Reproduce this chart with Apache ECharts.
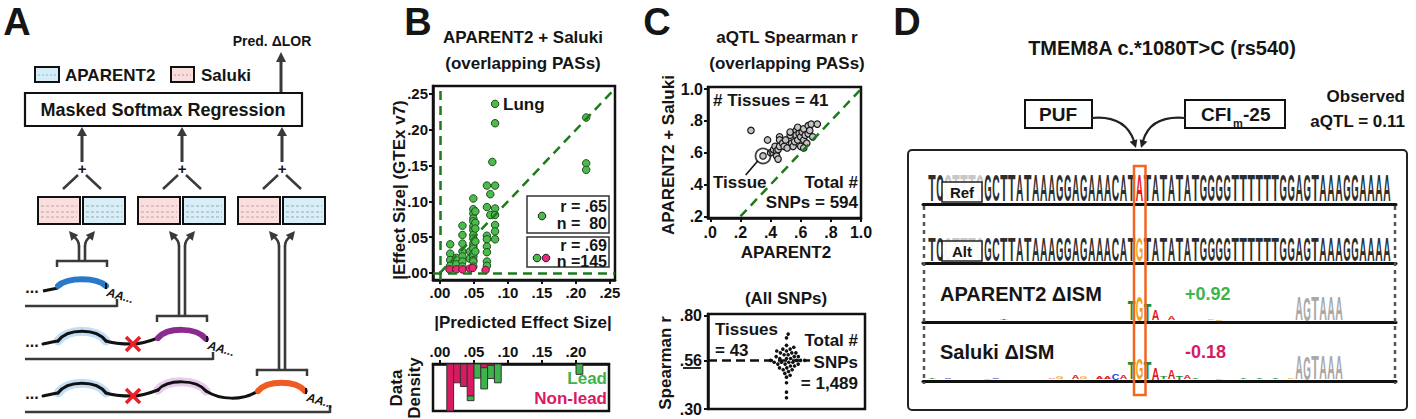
<!DOCTYPE html>
<html><head><meta charset="utf-8">
<script src="https://cdn.jsdelivr.net/npm/echarts@6/dist/echarts.min.js"></script>
<style>html,body{margin:0;padding:0;background:#fff}#c{width:1416px;height:419px}</style>
</head><body><div id="c"></div>
<script>
const F = '"Liberation Sans", Arial, Helvetica, sans-serif';

// ---------- Panel B data ----------
const bTicks = [0, 0.05, 0.10, 0.15, 0.20, 0.25];
const leadPoints = [
 [0.015,0.040],[0.015,0.027],[0.015,0.018],[0.015,0.010],
 [0.024,0.021],[0.024,0.012],
 [0.033,0.066],[0.033,0.053],[0.033,0.041],[0.033,0.030],[0.033,0.023],[0.033,0.016],[0.033,0.009],
 [0.044,0.030],[0.044,0.020],
 [0.049,0.104],[0.049,0.089],[0.049,0.083],[0.049,0.076],[0.049,0.072],[0.049,0.065],[0.049,0.060],[0.049,0.053],[0.049,0.048],[0.049,0.041],[0.049,0.037],[0.049,0.034],[0.049,0.027],[0.049,0.023],[0.049,0.018],[0.049,0.016],[0.049,0.009],
 [0.052,0.086],[0.052,0.070],[0.052,0.062],[0.052,0.044],[0.052,0.030],
 [0.069,0.122],[0.069,0.092],[0.069,0.052],[0.069,0.047],[0.069,0.037],[0.069,0.029],[0.069,0.016],[0.069,0.010],
 [0.074,0.110],[0.074,0.081],[0.077,0.155],
 [0.081,0.236],[0.081,0.209],[0.081,0.122],[0.081,0.090],[0.081,0.081],[0.081,0.067],[0.081,0.058],[0.081,0.047],
 [0.215,0.217],[0.215,0.153],[0.215,0.144]
];
const nonLeadPoints = [[0.014,0.005],[0.024,0.005],[0.033,0.005],[0.044,0.006],[0.048,0.007],[0.067,0.004]];
const histBins = [0.01, 0.02, 0.03, 0.04, 0.05, 0.06, 0.07, 0.08, 0.20];
const histNonLead = [1.00, 0.40, 0.48, 0.68, 0.00, 0.08, 0.03, 0.00, 0.00];
const histLead    = [0.00, 0.00, 0.00, 0.10, 0.30, 0.45, 0.28, 0.40, 0.22];

// ---------- Panel C data ----------
const cTicksX = [0, 0.2, 0.4, 0.6, 0.8, 1.0];
const cTicksY = [0.2, 0.4, 0.6, 0.8, 1.0];
const tissuePoints = [
 [0.27,0.74],[0.35,0.58],[0.38,0.68],[0.40,0.60],[0.42,0.62],[0.43,0.64],[0.44,0.61],[0.44,0.58],[0.45,0.56],[0.45,0.62],
 [0.46,0.64],[0.46,0.70],[0.46,0.68],[0.48,0.66],[0.49,0.64],[0.50,0.68],[0.51,0.63],[0.53,0.71],[0.53,0.73],[0.54,0.66],
 [0.55,0.64],[0.56,0.67],[0.57,0.74],[0.57,0.71],[0.58,0.76],[0.58,0.68],[0.59,0.72],[0.60,0.64],[0.60,0.70],[0.61,0.73],
 [0.62,0.75],[0.62,0.68],[0.63,0.71],[0.64,0.66],[0.65,0.77],[0.65,0.72],[0.66,0.74],[0.67,0.78],[0.68,0.70],[0.71,0.78],[0.62,0.63]
];
const highlightedTissue = 1;
const swarmValues = [
 0.70,0.68,0.64,0.63,0.62,0.62,0.61,0.61,0.60,0.60,
 0.60,0.59,0.59,0.58,0.58,0.58,0.57,0.57,0.57,0.56,
 0.56,0.56,0.56,0.55,0.55,0.55,0.55,0.54,0.54,0.54,
 0.53,0.53,0.52,0.52,0.51,0.51,0.50,0.49,0.48,0.47,
 0.44,0.39,0.36
];
const swarmMedian = 0.56;
const swarmTicks = [0.30, 0.56, 0.80];

// ---------- Panel D data ----------
const refSeq = 'TC' + 'CTTTG' + 'GCTTATAAAGGAGAAACAT' + 'A' + 'TATATATGGGGTTTTTTGGAGTAAAGGAAAA';
const altSeq = 'TC' + 'CTTTG' + 'GCTTATAAAGGAGAAACAT' + 'G' + 'TATATATGGGGTTTTTTGGAGTAAAGGAAAA';
const variantPos = 26;
const maskedPositions = [2, 3, 4, 5, 6];
const motifPositions = [46, 47, 48, 49, 50, 51];
const aparentISM = [[9,0.05],[25,0.62],[26,0.78],[27,0.55],[28,0.31],[30,0.10],[35,0.05],[36,0.04],
  [46,0.73],[47,0.73],[48,0.73],[49,0.73],[50,0.73],[51,0.73]];
const salukiISM = [[0,0.05],[2,0.04],[7,0.04],[8,0.05],[15,0.05],[16,0.06],[18,0.10],[19,0.07],[21,0.08],[22,0.08],
  [23,0.20],[24,0.10],[25,0.54],[26,0.68],[27,0.54],[28,0.37],[29,0.08],[30,0.30],[31,0.12],[32,0.10],[33,0.04],
  [36,0.04],[39,0.03],[41,0.04],[43,0.04],[45,0.05],
  [46,0.73],[47,0.73],[48,0.73],[49,0.73],[50,0.73],[51,0.73]];

// ---------- helpers ----------
const G = [];
const DARK = '#3a3a3a';
function line(x1,y1,x2,y2,w,c,dash,z){ G.push({type:'line',silent:true,z:z||1,shape:{x1,y1,x2,y2},style:{stroke:c||'#111',lineWidth:w||2,lineDash:dash||null,lineCap:'butt'}}); }
function rect(x,y,w,h,fill,stroke,lw,r,z){ G.push({type:'rect',silent:true,z:z||1,shape:{x,y,width:w,height:h,r:r||0},style:{fill:fill||'none',stroke:stroke||'#111',lineWidth:lw==null?2:lw}}); }
function txt(x,y,t,size,opt){ opt=opt||{}; G.push({type:'text',silent:true,z:opt.z||5,x,y,rotation:opt.rot||0,
  style:{text:t,fill:opt.color||'#151515',font:(opt.italic?'italic ':'')+(opt.normal?'':'bold ')+size+'px '+F,
  align:opt.align||'center',textAlign:opt.align||'center',verticalAlign:'middle',textVerticalAlign:'middle'}}); }
function bz(x1,y1,c1x,c1y,c2x,c2y,x2,y2,stroke,w,z){ G.push({type:'bezierCurve',silent:true,z:z||1,
  shape:{x1,y1,x2,y2,cpx1:c1x,cpy1:c1y,cpx2:c2x,cpy2:c2y},style:{stroke,lineWidth:w,fill:'none',lineCap:'round'}}); }
function qz(x1,y1,cx,cy,x2,y2,stroke,w,z){ G.push({type:'bezierCurve',silent:true,z:z||1,
  shape:{x1,y1,x2,y2,cpx1:cx,cpy1:cy},style:{stroke,lineWidth:w,fill:'none',lineCap:'round'}}); }
function head(tx,ty,ang,len,wid,c,z){ const bx=tx-Math.cos(ang)*len, by=ty-Math.sin(ang)*len; const px=-Math.sin(ang)*wid/2, py=Math.cos(ang)*wid/2;
  G.push({type:'polygon',silent:true,z:z||2,shape:{points:[[tx,ty],[bx+px,by+py],[bx-px,by-py]]},style:{fill:c||DARK}}); }
function circ(cx,cy,r,fill,stroke){ G.push({type:'circle',silent:true,z:6,shape:{cx,cy,r},style:{fill,stroke:stroke||'#222',lineWidth:1}}); }

// ---------- Panel A graphics ----------
txt(17,22,'A',38);
txt(272,41,'Pred. ΔLOR',14);
line(281,93,281,60,3,DARK); head(281,52,-Math.PI/2,10,10);
rect(35,67,24,15,'#d5edf8','#111',2); line(38,75,56,75,0.8,'#8aa',[2,2]);
txt(65,75,'APARENT2',17,{align:'left'});
rect(171,67,23,15,'#f9dcdc','#111',2); line(174,75,191,75,0.8,'#a88',[2,2]);
txt(201,75,'Saluki',17,{align:'left'});
rect(25,93,277,33,'#fff','#111',2.2);
txt(163,110,'Masked Softmax Regression',18);
[82,182,282].forEach(function(cx){
  line(cx,162,cx,134,3,DARK); head(cx,127,-Math.PI/2,9,10);
  txt(cx,168,'+',15);
  line(cx-4,175,cx-19,189,2.5,DARK); line(cx+4,175,cx+19,189,2.5,DARK);
  rect(cx-44,197,42,27,'#fbdede','#111',2);
  rect(cx+1,197,42,27,'#d8eef9','#111',2);
  [206,212,217].forEach(function(yy){ line(cx-41,yy,cx-5,yy,0.8,'#a99',[3,2]); line(cx+4,yy,cx+40,yy,0.8,'#899',[3,2]); });
});
// double arrows + brackets
[[82,261],[182,316],[282,370]].forEach(function(a){
  const cx=a[0], yb=a[1];
  line(cx-3,yb,cx-3,246,2.6,DARK); qz(cx-3,246,cx-3,240,cx-9,236,DARK,2.6);
  line(cx+3,yb,cx+3,246,2.6,DARK); qz(cx+3,246,cx+3,240,cx+9,236,DARK,2.6);
  head(cx-13,231,-Math.PI*0.72,9,9); head(cx+13,231,-Math.PI*0.28,9,9);
  line(cx-25,yb,cx+25,yb,2.5,DARK); line(cx-25,yb-1.2,cx-25,yb+6,2.5,DARK); line(cx+25,yb-1.2,cx+25,yb+6,2.5,DARK);
});
function dots(y){ txt(32,y-3,'...',16); }
function aa(x,y){ txt(x,y,'AA...',12,{align:'left',italic:true,rot:-0.28}); }
function redX(cx,cy){ line(cx-7,cy-7,cx+7,cy+7,3.5,'#e8202a',null,3); line(cx+7,cy-7,cx-7,cy+7,3.5,'#e8202a',null,3); }
function hump(x1,y1,x2,y2,peak,stroke,w,z){ const dx=(x2-x1); bz(x1,y1,x1+dx*0.2,peak,x2-dx*0.2,peak,x2,y2,stroke,w,z); }
// row 1
dots(290);
line(43,291,58,288,3,'#111');
hump(58,286,106,286,277,'#2a78c8',6);
line(106,283,106,289,2,'#111'); aa(107,292);
line(25,306,117,306,2.5,DARK); line(117,307,117,299,2.5,DARK);
// row 2
dots(344);
hump(58,341,106,341,328,'rgba(120,180,235,0.45)',9);
bz(43,344,48,343,52,342,58,341,'#111',3);
hump(58,341,106,341,328,'#111',3);
bz(106,341,114,344,124,344,133,344,'#111',3);
bz(133,344,142,344,150,341,158,338,'#111',3);
hump(158,338,206,339,327,'#8b2a8f',6);
line(207,336,207,342,2,'#111'); aa(208,345);
redX(133,344);
line(25,359,213,359,2.5,DARK); line(213,360,213,352,2.5,DARK);
// row 3
dots(396);
hump(58,393,106,393,380,'rgba(120,180,235,0.45)',9);
hump(158,390,206,391,379,'rgba(200,140,210,0.45)',9);
bz(43,396,48,395,52,394,58,393,'#111',3);
hump(58,393,106,393,380,'#111',3);
bz(106,393,114,396,124,396,133,396,'#111',3);
bz(133,396,142,396,150,393,158,390,'#111',3);
hump(158,390,206,391,379,'#111',3);
bz(206,391,220,400,242,401,258,391,'#111',3);
hump(258,391,305,391,380,'#f05a23',6);
line(306,388,306,394,2,'#111'); aa(307,397);
redX(133,396);
line(25,412,330,412,2.5,DARK); line(330,413,330,405,2.5,DARK);

// ---------- Panel B graphics ----------
txt(418,22,'B',38);
txt(523,37,'APARENT2 + Saluki',17);
txt(523,63,'(overlapping PASs)',17);
txt(399,190,'|Effect Size| (GTEx v7)',17,{rot:Math.PI/2});
txt(523,322,'|Predicted Effect Size|',17);
txt(503,104,'Lung',17,{align:'left'});
rect(527,196,82,37,'#fff','#333',1.5,0,4);
rect(527,237,82,30,'#fff','#333',1.5,0,4);
txt(607,206,'r = .65',16,{align:'right'});
txt(607,223.5,'n =  80',16,{align:'right'});
txt(607,245,'r = .69',16,{align:'right'});
txt(607,261.5,'n =145',16,{align:'right'});
circ(542,216,3.8,'#4cbb4c'); circ(537,258,3.8,'#4cbb4c'); circ(546,258,3.8,'#ea2a78');
txt(396,388,'Data',17,{rot:Math.PI/2});
txt(414,388,'Density',17,{rot:Math.PI/2});
txt(607,378,'Lead',17,{align:'right',color:'#3cb44b'});
txt(607,398,'Non-lead',17,{align:'right',color:'#d81b60'});

// ---------- Panel C graphics ----------
txt(657,22,'C',38);
txt(787,37,'aQTL Spearman r',17);
txt(787,63,'(overlapping PASs)',17);
txt(668,155,'APARENT2 + Saluki',17,{rot:Math.PI/2});
txt(786,252,'APARENT2',17);
txt(713,100,'# Tissues = 41',17,{align:'left'});
txt(713,182,'Tissue',17,{align:'left'});
txt(858,182,'Total #',17,{align:'right'});
txt(858,202,'SNPs = 594',17,{align:'right'});
txt(786,298,'(All SNPs)',17);
txt(665,363,'Spearman r',17,{rot:Math.PI/2});
line(683,368,701,368,1.8,'#111');
txt(715,329,'Tissues',17,{align:'left'});
txt(715,350,'= 43',17,{align:'left'});
txt(858,340,'Total #',17,{align:'right'});
txt(858,362,'SNPs',17,{align:'right'});
txt(858,383,'= 1,489',17,{align:'right'});

// ---------- Panel D graphics ----------
txt(907,22,'D',38);
txt(1162,48,'TMEM8A c.*1080T>C (rs540)',20);
rect(1025,100,67,28,'#fff','#111',2);
txt(1058,114,'PUF',19);
rect(1185,100,100,28,'#fff','#111',2);
txt(1201,114,'CFI',19,{align:'left'});
txt(1233,123,'m',11,{align:'left'});
txt(1243,114,'-25',19,{align:'left'});
txt(1405,96,'Observed',17,{align:'right'});
txt(1405,121,'aQTL = 0.11',17,{align:'right'});
bz(1092,118,1115,116,1128,124,1134,141,'#222',2.2);
head(1136,148,1.25,8,8,'#222');
bz(1185,118,1162,116,1148,124,1143,141,'#222',2.2);
head(1141,148,Math.PI-1.25,8,8,'#222');
rect(908,150,499,260,'none','#222',2,4);
line(924,206,924,384,2.5,'#555',[4,4]);
line(1395,206,1395,384,2.5,'#555',[4,4]);
rect(942,182,40,20,'rgba(255,255,255,0.85)','#222',1.5,0,8);
txt(962,192,'Ref',15,{z:9});
rect(942,241,40,20,'rgba(255,255,255,0.85)','#222',1.5,0,8);
txt(962,251,'Alt',15,{z:9});
txt(940,294,'APARENT2 ΔISM',20,{align:'left'});
txt(1185,294,'+0.92',18,{align:'left',color:'#3cb44b'});
txt(940,352,'Saluki ΔISM',20,{align:'left'});
txt(1185,352,'-0.18',18,{align:'left',color:'#d81b60'});
rect(1134,166,11.5,229,'none','#f26522',2.5,0,10);

// ---------- chart ----------
const bFmt = v => v.toFixed(2).replace(/^0/, '');
const cFmt = v => v >= 1 ? v.toFixed(1) : v.toFixed(1).replace(/^0/, '');
function valAxis(grid, min, max, ticks, fmt, extra){
  return Object.assign({type:'value', gridIndex:grid, min, max, splitLine:{show:false},
    axisLine:{show:true, onZero:false, lineStyle:{color:'#111', width:2.5}},
    axisTick:{show:true, length:4, customValues:ticks, lineStyle:{color:'#111', width:2}},
    axisLabel:{customValues:ticks, formatter:fmt, color:'#111', fontWeight:'bold', fontSize:15, fontFamily:F, margin:5}}, extra||{});
}
function hiddenAxis(grid, min, max, extra){
  return Object.assign({type:'value', gridIndex:grid, min, max, splitLine:{show:false}, axisLine:{show:false}, axisTick:{show:false}, axisLabel:{show:false}}, extra||{});
}
const borderGrid = {show:true, borderColor:'#111', borderWidth:2.5, backgroundColor:'transparent'};

// beeswarm layout (pixel based)
function beeswarm(values, pxPerY, pxPerX, d){
  const order = values.map((v,i)=>i).sort((a,b)=>values[a]-values[b]);
  const placed = []; const xs = new Array(values.length);
  order.forEach(function(i){
    const y = values[i]*pxPerY; const cands=[0];
    placed.forEach(function(p){ const dy=Math.abs(p.y-y); if(dy<d){ const dx=Math.sqrt(d*d-dy*dy); cands.push(p.x+dx, p.x-dx);} });
    cands.sort((a,b)=>Math.abs(a)-Math.abs(b));
    let chosen = 0;
    for (const c of cands){ if (placed.every(p => (p.x-c)*(p.x-c)+(p.y-y)*(p.y-y) >= d*d-1e-6)) { chosen=c; break; } }
    placed.push({x:chosen,y}); xs[i]=chosen/pxPerX;
  });
  return xs;
}
const swarmYmin = 0.30, swarmYmax = 0.8075;
const swarmX = beeswarm(swarmValues, 95/(swarmYmax-swarmYmin), 157/2, 4.1);

// histogram rects
const histRects = [];
histBins.forEach(function(b,i){
  const nl = histNonLead[i], ld = histLead[i];
  if (nl > 0) histRects.push([b, b+0.01, 0, nl, 0]);
  if (ld > 0) histRects.push([b, b+0.01, nl, nl+ld, 1]);
});

const LCOL = {A:'#e8161b', C:'#1f3fd8', G:'#f5a01a', T:'#1e8c2e'};
const LW = {A:0.722, C:0.722, G:0.778, T:0.611};
const FS = 20;
function letterEl(ch, cx, bottom, h, w, color){
  const sx = w/(LW[ch]*FS), sy = Math.max(h,0.1)/(0.716*FS);
  return {type:'text', x:cx, y:bottom, scaleX:sx, scaleY:sy,
    style:{text:ch, x:0, y:-0.352*FS, fill:color, font:'bold '+FS+'px '+F, align:'center', textAlign:'center', verticalAlign:'middle', textVerticalAlign:'middle'}};
}
function seqSeries(seq, grid, varColor){
  return {type:'custom', xAxisIndex:grid, yAxisIndex:grid, silent:true,
    data: seq.split('').map((c,i)=>[i,1]),
    renderItem: function(params, api){
      const i = api.value(0); const ch = seq[i];
      const b = api.coord([i,0]), t = api.coord([i,api.value(1)]);
      const col = (i===variantPos) ? varColor : (maskedPositions.indexOf(i)>=0 ? '#c8c8c8' : '#2e2e2e');
      return letterEl(ch, b[0], b[1], b[1]-t[1], 7.4, col);
    }};
}
function logoSeries(ism, grid){
  return {type:'custom', xAxisIndex:grid, yAxisIndex:grid, silent:true,
    data: ism.map(d=>[d[0], d[1]]),
    renderItem: function(params, api){
      const i = api.value(0); const ch = altSeq[i];
      const b = api.coord([i,0]), t = api.coord([i,api.value(1)]);
      const col = motifPositions.indexOf(i)>=0 ? '#a9a9a9' : LCOL[ch];
      return letterEl(ch, b[0], b[1]-1.5, b[1]-t[1], 7.6, col);
    }};
}
const seqMin = -1.127, seqMax = 58.14;
const seqLine = {axisLine:{show:true, onZero:false, lineStyle:{color:'#111', width:3}}};

const dashGreen = {color:'#1d7a1d', width:2.5, type:[9,6]};
const option = {
  animation:false,
  backgroundColor:'#fff',
  grid:[
    Object.assign({left:433, top:86, width:182, height:194}, borderGrid),
    Object.assign({left:433, top:364, width:176, height:47}, borderGrid),
    Object.assign({left:708, top:87, width:153, height:131}, borderGrid),
    Object.assign({left:708, top:314, width:157, height:95}, borderGrid),
    {left:923, top:175, width:473, height:29},
    {left:923, top:237, width:473, height:26},
    {left:923, top:290, width:473, height:32},
    {left:923, top:349, width:473, height:32}
  ],
  xAxis:[
    valAxis(0, -0.0103, 0.2574, bTicks, bFmt),
    valAxis(1, -0.0103, 0.2485, bTicks, bFmt, {position:'top'}),
    valAxis(2, -0.015, 1.0, cTicksX, cFmt, {axisLabel:{customValues:cTicksX, formatter:cFmt, color:'#111', fontWeight:'bold', fontSize:16, fontFamily:F, margin:6}}),
    hiddenAxis(3, -1, 1),
    hiddenAxis(4, seqMin, seqMax, seqLine),
    hiddenAxis(5, seqMin, seqMax, seqLine),
    hiddenAxis(6, seqMin, seqMax, seqLine),
    hiddenAxis(7, seqMin, seqMax, seqLine)
  ],
  yAxis:[
    valAxis(0, -0.0098, 0.261, bTicks, bFmt),
    hiddenAxis(1, 0, 1, {inverse:true}),
    valAxis(2, 0.19, 1.013, cTicksY, cFmt, {axisLabel:{customValues:cTicksY, formatter:cFmt, color:'#111', fontWeight:'bold', fontSize:16, fontFamily:F, margin:5}}),
    valAxis(3, swarmYmin, swarmYmax, swarmTicks, bFmt, {axisLabel:{customValues:swarmTicks, formatter:bFmt, color:'#111', fontWeight:'bold', fontSize:16, fontFamily:F, margin:6}}),
    hiddenAxis(4, -0.1, 1),
    hiddenAxis(5, -0.1, 1),
    hiddenAxis(6, 0, 1),
    hiddenAxis(7, 0, 1)
  ],
  series:[
    {type:'scatter', xAxisIndex:0, yAxisIndex:0, data:leadPoints, symbolSize:7.5, silent:true,
     itemStyle:{color:'#4cbb4c', borderColor:'#1f4d1f', borderWidth:1, opacity:1},
     markLine:{silent:true, symbol:['none','none'], label:{show:false}, lineStyle:dashGreen, animation:false,
       data:[
         [{coord:[0,-0.0098]},{coord:[0,0.261]}],
         [{coord:[-0.0103,0]},{coord:[0.2574,0]}],
         [{coord:[0,0]},{coord:[0.2574,0.2574]}]
       ]}},
    {type:'scatter', xAxisIndex:0, yAxisIndex:0, data:nonLeadPoints, symbolSize:7.5, silent:true,
     itemStyle:{color:'#ea2a78', borderColor:'#6a1030', borderWidth:1, opacity:1}},
    {type:'custom', xAxisIndex:1, yAxisIndex:1, silent:true, data:histRects,
     renderItem:function(params, api){
       const p0 = api.coord([api.value(0), api.value(2)]), p1 = api.coord([api.value(1), api.value(3)]);
       return {type:'rect', shape:{x:Math.min(p0[0],p1[0]), y:Math.min(p0[1],p1[1]), width:Math.abs(p1[0]-p0[0]), height:Math.abs(p1[1]-p0[1])},
         style:{fill: api.value(4)===0 ? '#d81b60' : '#3cb44b', stroke:'#333', lineWidth:1}};
     }},
    {type:'scatter', xAxisIndex:2, yAxisIndex:2, data:tissuePoints, symbolSize:6.5, silent:true,
     itemStyle:{color:'#c4c4c4', borderColor:'#1a1a1a', borderWidth:1.2, opacity:1},
     markLine:{silent:true, symbol:['none','none'], label:{show:false}, animation:false,
       data:[
         [{coord:[0.2,0.2], lineStyle:dashGreen},{coord:[1.0,1.0]}],
         [{coord:[0.316,0.55], lineStyle:{color:'#111', width:1.6, type:'solid'}},{coord:[0.235,0.46]}]
       ]}},
    {type:'scatter', xAxisIndex:2, yAxisIndex:2, data:[tissuePoints[highlightedTissue]], symbolSize:15, silent:true,
     itemStyle:{color:'rgba(0,0,0,0)', borderColor:'#111', borderWidth:1.8}},
    {type:'scatter', xAxisIndex:3, yAxisIndex:3, data:swarmValues.map((v,i)=>[swarmX[i], v]), symbolSize:3.6, silent:true,
     itemStyle:{color:'#111', opacity:1},
     markLine:{silent:true, symbol:['none','none'], label:{show:false}, animation:false, z:1,
       lineStyle:{color:'#111', width:2.5, type:[9,5]},
       data:[[{coord:[-1, swarmMedian]},{coord:[0.30, swarmMedian]}]]}},
    seqSeries(refSeq, 4, '#e8161b'),
    seqSeries(altSeq, 5, '#f5a01a'),
    logoSeries(aparentISM, 6),
    logoSeries(salukiISM, 7)
  ],
  graphic:{elements:G}
};
const chart = echarts.init(document.getElementById('c'), null, {renderer:'svg'});
chart.setOption(option);
</script></body></html>
